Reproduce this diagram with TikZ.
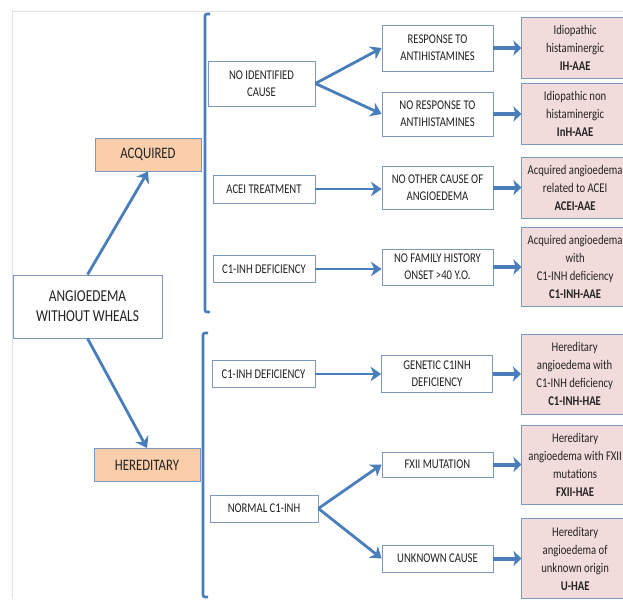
\documentclass[tikz,border=0pt]{standalone}
\usepackage{fontspec}
\setmainfont[FakeStretch=0.8]{Carlito}
\usepackage{xcolor}
\usepackage{tikz}
\usetikzlibrary{arrows.meta,positioning}
\definecolor{aeblue}{RGB}{74,126,187}
\definecolor{aeframe}{RGB}{125,152,190}
\definecolor{aepeach}{RGB}{250,206,170}
\definecolor{aepink}{RGB}{242,220,219}
\definecolor{aetext}{RGB}{35,35,35}

\begin{document}
\begin{tikzpicture}[x=0.75pt,y=-0.75pt,
  >={Stealth[length=8pt,width=11pt,inset=2.5pt]},
  box/.style={draw=aeframe,line width=0.6pt,fill=white,align=center,inner sep=0pt,text=aetext,font=\fontsize{10}{12.75}\selectfont},
  mid/.style={box,minimum width=83.25pt},
  cls/.style={box,fill=aepeach,minimum width=79.5pt,minimum height=24.75pt,font=\fontsize{12}{15}\selectfont},
  res/.style={box,fill=aepink,minimum width=80pt,font=\fontsize{10}{13.5}\selectfont},
  arr/.style={->,draw=aeblue,line width=2.1pt},
  sarr/.style={-{Stealth[length=6pt,width=11.5pt,inset=1.5pt]},draw=aeblue,line width=3pt},
  brk/.style={draw=aeblue,line width=2pt,rounded corners=1.5pt}]
\useasboundingbox (0,0) rectangle (623,599);
\clip (0,0) rectangle (623,599);
\draw[black!12,line width=0.6pt] (12,599) -- (12,11) -- (623,11);
% ROOT
\node[box,minimum width=111.75pt,minimum height=47.25pt,font=\fontsize{12.5}{15}\selectfont] (ang) at (87.5,306.5) {ANGIOEDEMA\\WITHOUT WHEALS};
\node[cls] (acq) at (148,154.5) {ACQUIRED};
\node[cls] (her) at (147,465) {HEREDITARY};
\draw[arr](ang.north)--(acq.south);\draw[arr](ang.south)--(her.north);
% ACQUIRED
\draw[brk] (210,14) -- (205,14) -- (205,312) -- (210,312);
\node[box,minimum width=80.25pt,minimum height=33.75pt] (nic) at (261.5,83.5) {NO IDENTIFIED\\CAUSE};
\node[box,minimum width=76.5pt,minimum height=21pt] (acei) at (264,189) {ACEI TREATMENT};
\node[box,minimum width=76.5pt,minimum height=20.25pt] (cia) at (264,269) {C1-INH DEFICIENCY};
\node[mid,minimum height=34.5pt] (resp) at (437.5,48) {RESPONSE TO\\ANTIHISTAMINES};
\node[mid,minimum height=33pt] (noresp) at (437.5,114) {NO RESPONSE TO\\ANTIHISTAMINES};
\node[mid,minimum height=32.25pt] (noth) at (437.5,187.5) {NO OTHER CAUSE OF\\ANGIOEDEMA};
\node[mid,minimum height=27pt] (nofam) at (437.5,267) {NO FAMILY HISTORY\\ONSET >40 Y.O.};
\node[res,minimum height=45.75pt,right=21pt of resp] (ihaae) {Idiopathic\\histaminergic\\\textbf{IH-AAE}};
\node[res,minimum height=45.75pt,right=21pt of noresp] (inhaae) {Idiopathic non\\histaminergic\\\textbf{InH-AAE}};
\node[res,minimum height=45.75pt,right=21pt of noth] (aceiaae) {Acquired angioedema\\related to ACEI\\\textbf{ACEI-AAE}};
\node[res,minimum height=59.25pt,right=21pt of nofam] (cinhaae) {Acquired angioedema\\with\\C1-INH deficiency\\\textbf{C1-INH-AAE}};
\draw[arr](nic.east)--(resp.west);\draw[arr](nic.east)--(noresp.west);
\draw[arr](acei.east)--(acei.east -| noth.west);\draw[arr](cia.east)--(cia.east -| nofam.west);
\draw[sarr](resp)--(ihaae);\draw[sarr](noresp)--(inhaae);\draw[sarr](noth)--(aceiaae);\draw[sarr](nofam)--(cinhaae);
% HEREDITARY
\draw[brk] (208,333) -- (203,333) -- (203,597) -- (208,597);
\node[box,minimum width=77.25pt,minimum height=20.25pt] (cih) at (263.5,374) {C1-INH DEFICIENCY};
\node[box,minimum width=81pt,minimum height=20.25pt] (ncinh) at (264,508.5) {NORMAL C1-INH};
\node[mid,minimum height=27.75pt] (gen) at (437,374) {GENETIC C1INH\\DEFICIENCY};
\node[mid,minimum height=18.75pt] (fxii) at (437.5,464.5) {FXII MUTATION};
\node[mid,minimum height=20.25pt] (unk) at (437.5,558.5) {UNKNOWN CAUSE};
\node[res,minimum height=60pt,right=21pt of gen] (cinhhae) {Hereditary\\angioedema with\\C1-INH deficiency\\\textbf{C1-INH-HAE}};
\node[res,minimum height=59.25pt,right=21pt of fxii] (fxiihae) {Hereditary\\angioedema with FXII\\mutations\\\textbf{FXII-HAE}};
\node[res,minimum height=60pt,right=21pt of unk] (uhae) {Hereditary\\angioedema of\\unknown origin\\\textbf{U-HAE}};
\draw[arr](cih.east)--(gen.west);
\draw[arr](ncinh.east)--(fxii.west);\draw[arr](ncinh.east)--(unk.west);
\draw[sarr](gen)--(cinhhae);\draw[sarr](fxii)--(fxiihae);\draw[sarr](unk)--(uhae);
\end{tikzpicture}
\end{document}
